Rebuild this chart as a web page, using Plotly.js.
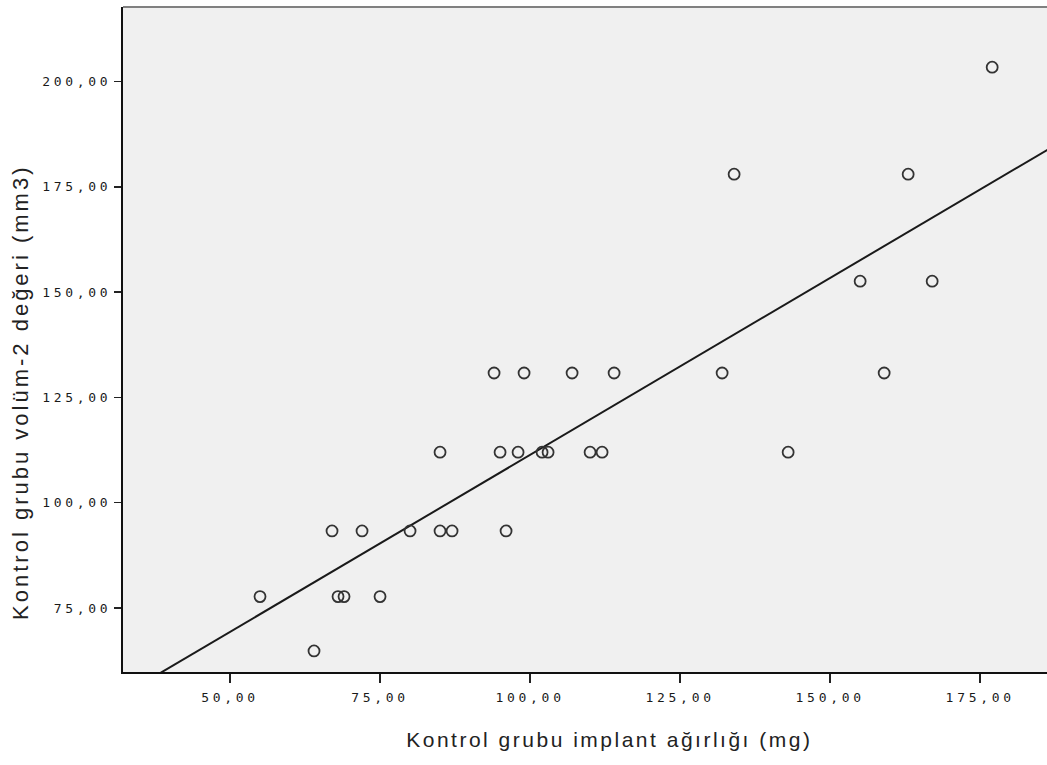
<!DOCTYPE html>
<html>
<head>
<meta charset="utf-8">
<script src="https://cdn.plot.ly/plotly-3.0.1.min.js"></script>
<style>
  html, body { margin: 0; padding: 0; overflow: hidden; background: #fff; }
  #chart { width: 1067px; height: 765px; }
  .xtick text, .ytick text { letter-spacing: 3.7px; }
  g.annotation[data-index="0"] text { letter-spacing: 2.5px; }
  g.annotation[data-index="1"] text { letter-spacing: 3.0px; }
</style>
</head>
<body>
<div id="chart"></div>
<script>
// Kontrol grubu implant ağırlığı (mg)
const implantWeight = [55, 64, 67, 68, 69, 72, 75, 80, 85, 85, 87, 94, 95, 96, 98, 99, 102, 103, 107, 110, 112, 114, 132, 134, 143, 155, 159, 163, 167, 177];
// Kontrol grubu volüm-2 değeri (mm3)
const volume2 = [77.7, 64.8, 93.3, 77.7, 77.7, 93.3, 77.7, 93.3, 112.0, 93.3, 93.3, 130.8, 112.0, 93.3, 112.0, 130.8, 112.0, 112.0, 130.8, 112.0, 112.0, 130.8, 130.8, 178.0, 112.0, 152.6, 130.8, 178.0, 152.6, 203.4];

const xTickVals = [50, 75, 100, 125, 150, 175];
const xTickText = ["50,00", "75,00", "100,00", "125,00", "150,00", "175,00"];
const yTickVals = [75, 100, 125, 150, 175, 200];
const yTickText = ["75,00", "100,00", "125,00", "150,00", "175,00", "200,00"];

const xTitle = "Kontrol grubu implant ağırlığı (mg)";
const yTitle = "Kontrol grubu volüm-2 değeri (mm3)";

const xRange = [32.17, 187.8];
const yRange = [59.8, 217.7];

// least-squares fit line
const n = implantWeight.length;
const mx = implantWeight.reduce((a, b) => a + b, 0) / n;
const my = volume2.reduce((a, b) => a + b, 0) / n;
let sxy = 0, sxx = 0;
for (let i = 0; i < n; i++) {
  sxy += (implantWeight[i] - mx) * (volume2[i] - my);
  sxx += (implantWeight[i] - mx) ** 2;
}
const slope = sxy / sxx;
const intercept = my - slope * mx;
const fitX = [xRange[0], xRange[1]];
const fitY = fitX.map(x => intercept + slope * x);

const traces = [
  {
    x: fitX, y: fitY, type: 'scatter', mode: 'lines',
    line: { color: '#1a1a1a', width: 2 }, hoverinfo: 'skip', showlegend: false
  },
  {
    x: implantWeight, y: volume2, type: 'scatter', mode: 'markers',
    marker: { symbol: 'circle-open', size: 11, color: '#333333', line: { width: 1.8, color: '#333333' } },
    showlegend: false, cliponaxis: false
  }
];

const tickFont = { family: 'DejaVu Sans Mono, monospace', size: 13, color: '#1a1a1a' };

const layout = {
  width: 1067, height: 765,
  margin: { l: 123, r: 10, t: 7, b: 93 },
  paper_bgcolor: '#ffffff',
  plot_bgcolor: '#f0f0f0',
  showlegend: false,
  xaxis: {
    range: xRange, tickvals: xTickVals, ticktext: xTickText,
    ticks: 'outside', ticklen: 9, tickwidth: 1.5, tickcolor: '#222',
    showline: true, linecolor: '#111', linewidth: 2,
    showgrid: false, zeroline: false, tickfont: tickFont,
    ticklabelstandoff: 3
  },
  yaxis: {
    range: yRange, tickvals: yTickVals, ticktext: yTickText,
    ticks: 'outside', ticklen: 7, tickwidth: 1.5, tickcolor: '#222',
    showline: true, linecolor: '#111', linewidth: 2,
    showgrid: false, zeroline: false, tickfont: tickFont,
    ticklabelstandoff: 0
  },
  shapes: [
    { type: 'line', xref: 'paper', yref: 'paper', x0: 0, x1: 1, y0: 1, y1: 1,
      line: { color: '#808080', width: 2 } }
  ],
  annotations: [
    { text: xTitle, xref: 'paper', yref: 'paper', x: 0.5214, y: -0.1008,
      xanchor: 'center', yanchor: 'middle', showarrow: false,
      font: { family: 'Liberation Sans, Arial, sans-serif', size: 21, color: '#222' } },
    { text: yTitle, xref: 'paper', yref: 'paper', x: -0.109, y: 0.42,
      xanchor: 'center', yanchor: 'middle', textangle: -90, showarrow: false,
      font: { family: 'Liberation Sans, Arial, sans-serif', size: 22, color: '#222' } }
  ]
};

Plotly.newPlot('chart', traces, layout, { displayModeBar: false, staticPlot: true });
</script>
</body>
</html>
